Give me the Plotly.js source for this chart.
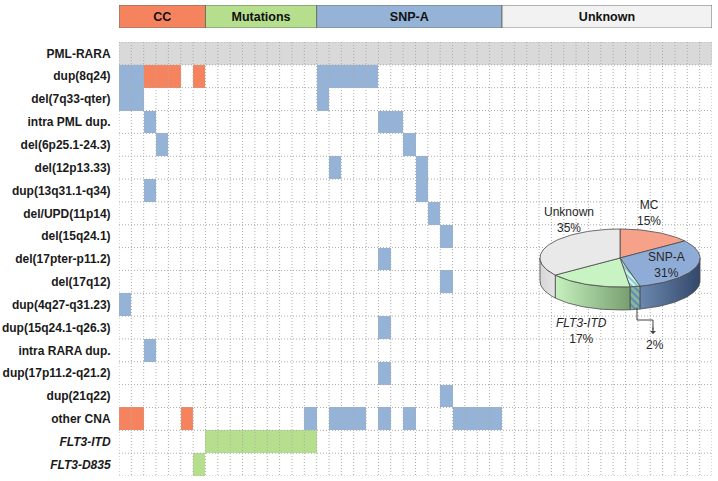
<!DOCTYPE html>
<html><head><meta charset="utf-8">
<script src="https://cdn.plot.ly/plotly-3.0.1.min.js"></script>
<style>html,body{margin:0;padding:0;background:#fff}</style>
</head><body><div id="chart" style="width:718px;height:481px"></div>
<script>
// ---------- data ----------
const rowLabels = ['PML-RARA','dup(8q24)','del(7q33-qter)','intra PML dup.','del(6p25.1-24.3)','del(12p13.33)',
  'dup(13q31.1-q34)','del/UPD(11p14)','del(15q24.1)','del(17pter-p11.2)','del(17q12)','dup(4q27-q31.23)',
  'dup(15q24.1-q26.3)','intra RARA dup.','dup(17p11.2-q21.2)','dup(21q22)','other CNA','FLT3-ITD','FLT3-D835'];
const italicRows = ['FLT3-ITD','FLT3-D835'];
const nCols = 48;
const fusionRow = 'PML-RARA';               // present in every patient
const groupNames = ['CC','Mutations','SNP-A','Unknown'];
const groupSizes = [7, 9, 15, 17];
// cells: [row label, patient columns (1-based)]
const ccCells = [
  ['dup(8q24)', [3,4,5,7]],
  ['other CNA', [1,2,6]]
];
const mutationCells = [
  ['FLT3-ITD', [8,9,10,11,12,13,14,15,16]],
  ['FLT3-D835', [7]]
];
const snpCells = [
  ['dup(8q24)', [1,2,17,18,19,20,21]],
  ['del(7q33-qter)', [1,2,17]],
  ['intra PML dup.', [3,22,23]],
  ['del(6p25.1-24.3)', [4,24]],
  ['del(12p13.33)', [18,25]],
  ['dup(13q31.1-q34)', [3,25]],
  ['del/UPD(11p14)', [26]],
  ['del(15q24.1)', [27]],
  ['del(17pter-p11.2)', [22]],
  ['del(17q12)', [27]],
  ['dup(4q27-q31.23)', [1]],
  ['dup(15q24.1-q26.3)', [22]],
  ['intra RARA dup.', [3]],
  ['dup(17p11.2-q21.2)', [22]],
  ['dup(21q22)', [27]],
  ['other CNA', [16,18,19,20,22,24,28,29,30,31]]
];
const pieLabels = ['MC','SNP-A','','FLT3-ITD','Unknown'];
const pieValues = [15, 31, 2, 17, 35];

// ---------- styles ----------
const FONT = 'Liberation Sans, Arial, sans-serif';
const cGray = '#D9D9D9', cOrange = '#F5845E', cGreen = '#B5DF8C', cBlue = '#95B3D7';
const headerColors = ['#F5845E', '#B5DF8C', '#95B3D7', '#F2F2F2'];

// ---------- heatmap matrix ----------
const nRows = rowLabels.length;
const z = rowLabels.map(() => new Array(nCols).fill(null));
const rowIdx = l => rowLabels.indexOf(l);
for (let c = 0; c < nCols; c++) z[rowIdx(fusionRow)][c] = 1;
function put(list, v) { list.forEach(([lab, cols]) => cols.forEach(c => { z[rowIdx(lab)][c - 1] = v; })); }
put(ccCells, 2); put(mutationCells, 3); put(snpCells, 4);
const xs = Array.from({length: nCols}, (_, i) => i + 1);
const ys = Array.from({length: nRows}, (_, i) => i + 1);

const traces = [];
traces.push({
  type: 'heatmap', x: xs, y: ys, z: z, zmin: 1, zmax: 4, showscale: false, hoverinfo: 'skip',
  colorscale: [[0, cGray], [0.17, cGray], [0.17, cOrange], [0.5, cOrange], [0.5, cGreen], [0.83, cGreen], [0.83, cBlue], [1, cBlue]],
  xaxis: 'x', yaxis: 'y'
});
// dotted grid over the cells
const gx = [], gy = [];
for (let k = 0; k <= nCols; k++) { gx.push(k + 0.5, k + 0.5, null); gy.push(0.5, nRows + 0.5, null); }
for (let r = 0; r <= nRows; r++) { gx.push(0.5, nCols + 0.5, null); gy.push(r + 0.5, r + 0.5, null); }
traces.push({type: 'scatter', mode: 'lines', x: gx, y: gy, hoverinfo: 'skip', showlegend: false,
  line: {color: '#ABABAB', width: 1, dash: '1px,2px'}, xaxis: 'x', yaxis: 'y'});

// header boxes
const bases = []; let acc = 0.5;
groupSizes.forEach(s => { bases.push(acc); acc += s; });
traces.push({
  type: 'bar', orientation: 'h', y: groupSizes.map(() => 0), x: groupSizes, base: bases, width: 1,
  marker: {color: headerColors, line: {color: '#707070', width: 1}},
  text: groupNames, textposition: 'inside', insidetextanchor: 'middle', textangle: 0, constraintext: 'none',
  textfont: {family: FONT, size: 12.5, color: '#111', weight: 'bold'}, hoverinfo: 'skip', showlegend: false,
  xaxis: 'x', yaxis: 'y2'
});

// ---------- 3D-looking pie (pixel coordinates on x3/y3) ----------
const cx = 620, cy = 258, rx = 80, ry = 29, depth = 23;
const topColors = ['#F6A28B', '#8FACD6', '#C8F0EC', '#C8F4C3', '#E9E9E9'];
const sideFill = [null,
  {type: 'horizontal', colorscale: [[0, '#6C88B0'], [1, '#33486A']]},
  null,
  {type: 'horizontal', colorscale: [[0, '#C6F0BE'], [1, '#779F70']]},
  {type: 'horizontal', colorscale: [[0, '#D6D6D6'], [1, '#E4E4E4']]}];
const edge = {color: '#4A4A4A', width: 0.8};
const total = pieValues.reduce((a, b) => a + b, 0);
function pt(deg, dy) { const t = deg * Math.PI / 180; return [cx + rx * Math.cos(t), cy - ry * Math.sin(t) + (dy || 0)]; }
function arc(a, b, dy) { const out = []; const n = Math.max(2, Math.ceil(Math.abs(b - a) / 2)); for (let i = 0; i <= n; i++) out.push(pt(a + (b - a) * i / n, dy)); return out; }
const angles = []; let cum = 0;
pieValues.forEach(v => { const a0 = 90 - 360 * cum / total; cum += v; angles.push([a0, 90 - 360 * cum / total]); });
// sides (front half only)
angles.forEach(([a0, a1], i) => {
  const hi = Math.min(a0, 0), lo = Math.max(a1, -180);
  if (lo >= hi) return;
  const poly = arc(hi, lo, 0).concat(arc(lo, hi, depth));
  poly.push(poly[0]);
  const tr = {type: 'scatter', mode: 'lines', fill: 'toself', x: poly.map(p => p[0]), y: poly.map(p => p[1]),
    line: edge, hoverinfo: 'skip', showlegend: false, xaxis: 'x3', yaxis: 'y3'};
  if (i === 2) { tr.fillcolor = '#7FAF95'; tr.fillpattern = {shape: '\\', bgcolor: '#86B89A', fgcolor: '#5F86B8', size: 5, solidity: 0.4}; }
  else tr.fillgradient = sideFill[i];
  traces.push(tr);
});
// top surface
angles.forEach(([a0, a1], i) => {
  const poly = [[cx, cy]].concat(arc(a0, a1, 0)); poly.push([cx, cy]);
  const tr = {type: 'scatter', mode: 'lines', fill: 'toself', fillcolor: topColors[i], x: poly.map(p => p[0]), y: poly.map(p => p[1]),
    line: edge, hoverinfo: 'skip', showlegend: false, xaxis: 'x3', yaxis: 'y3'};
  if (i === 2) tr.fillpattern = {shape: '\\', bgcolor: '#CDF2EE', fgcolor: '#6FB5B5', size: 4, solidity: 0.3};
  traces.push(tr);
});
// leader line for the small slice
const midSmall = (angles[2][0] + angles[2][1]) / 2;
const lp = pt(midSmall, depth);
traces.push({type: 'scatter', mode: 'lines', x: [lp[0] + 2, lp[0] + 2, lp[0] + 18, lp[0] + 18], y: [lp[1] - 2, 320, 320, 330],
  line: {color: '#404040', width: 1}, hoverinfo: 'skip', showlegend: false, xaxis: 'x3', yaxis: 'y3'});

const pct = i => pieValues[i] + '%';
const labelPos = [[649, 213], [666, 265], [655, 345], [581, 331], [569, 220]];
const annotations = pieValues.map((v, i) => {
  let name = pieLabels[i];
  if (italicRows.includes(name)) name = '<i>' + name + '</i>';
  return {xref: 'x3', yref: 'y3', x: labelPos[i][0], y: labelPos[i][1], showarrow: false,
    text: name ? name + '<br>' + pct(i) : pct(i), align: 'center',
    font: {family: FONT, size: 12, color: '#262626'}};
});
annotations.push({xref: 'x3', yref: 'y3', axref: 'x3', ayref: 'y3', x: lp[0] + 18, y: 334, ax: lp[0] + 18, ay: 326,
  showarrow: true, arrowhead: 1, arrowsize: 1, arrowwidth: 1, arrowcolor: '#404040', text: ''});

const layout = {
  width: 718, height: 481, margin: {l: 119, r: 6, t: 5, b: 5},
  paper_bgcolor: '#fff', plot_bgcolor: 'rgba(0,0,0,0)', showlegend: false,
  xaxis: {domain: [0, 1], range: [0.5, nCols + 0.5], showgrid: false, zeroline: false, showticklabels: false,
    ticks: '', ticklen: 0, showline: false, fixedrange: true},
  yaxis: {domain: [0, 0.9214], range: [nRows + 0.5, 0.5], tickmode: 'array', tickvals: ys,
    ticktext: rowLabels.map(l => italicRows.includes(l) ? '<i>' + l + '</i>' : l),
    tickfont: {family: FONT, size: 12, color: '#1a1a1a', weight: 'bold'},
    ticks: 'outside', ticklen: 5, tickcolor: 'rgba(0,0,0,0)', showgrid: false, zeroline: false, fixedrange: true},
  yaxis2: {domain: [0.951, 1], anchor: 'x', range: [-0.5, 0.5], visible: false, fixedrange: true},
  xaxis3: {domain: [0, 1], range: [119, 712], visible: false, anchor: 'y3', fixedrange: true},
  yaxis3: {domain: [0, 1], range: [476, 5], visible: false, anchor: 'x3', fixedrange: true},
  annotations: annotations
};
Plotly.newPlot('chart', traces, layout, {displayModeBar: false, staticPlot: true});
</script></body></html>
